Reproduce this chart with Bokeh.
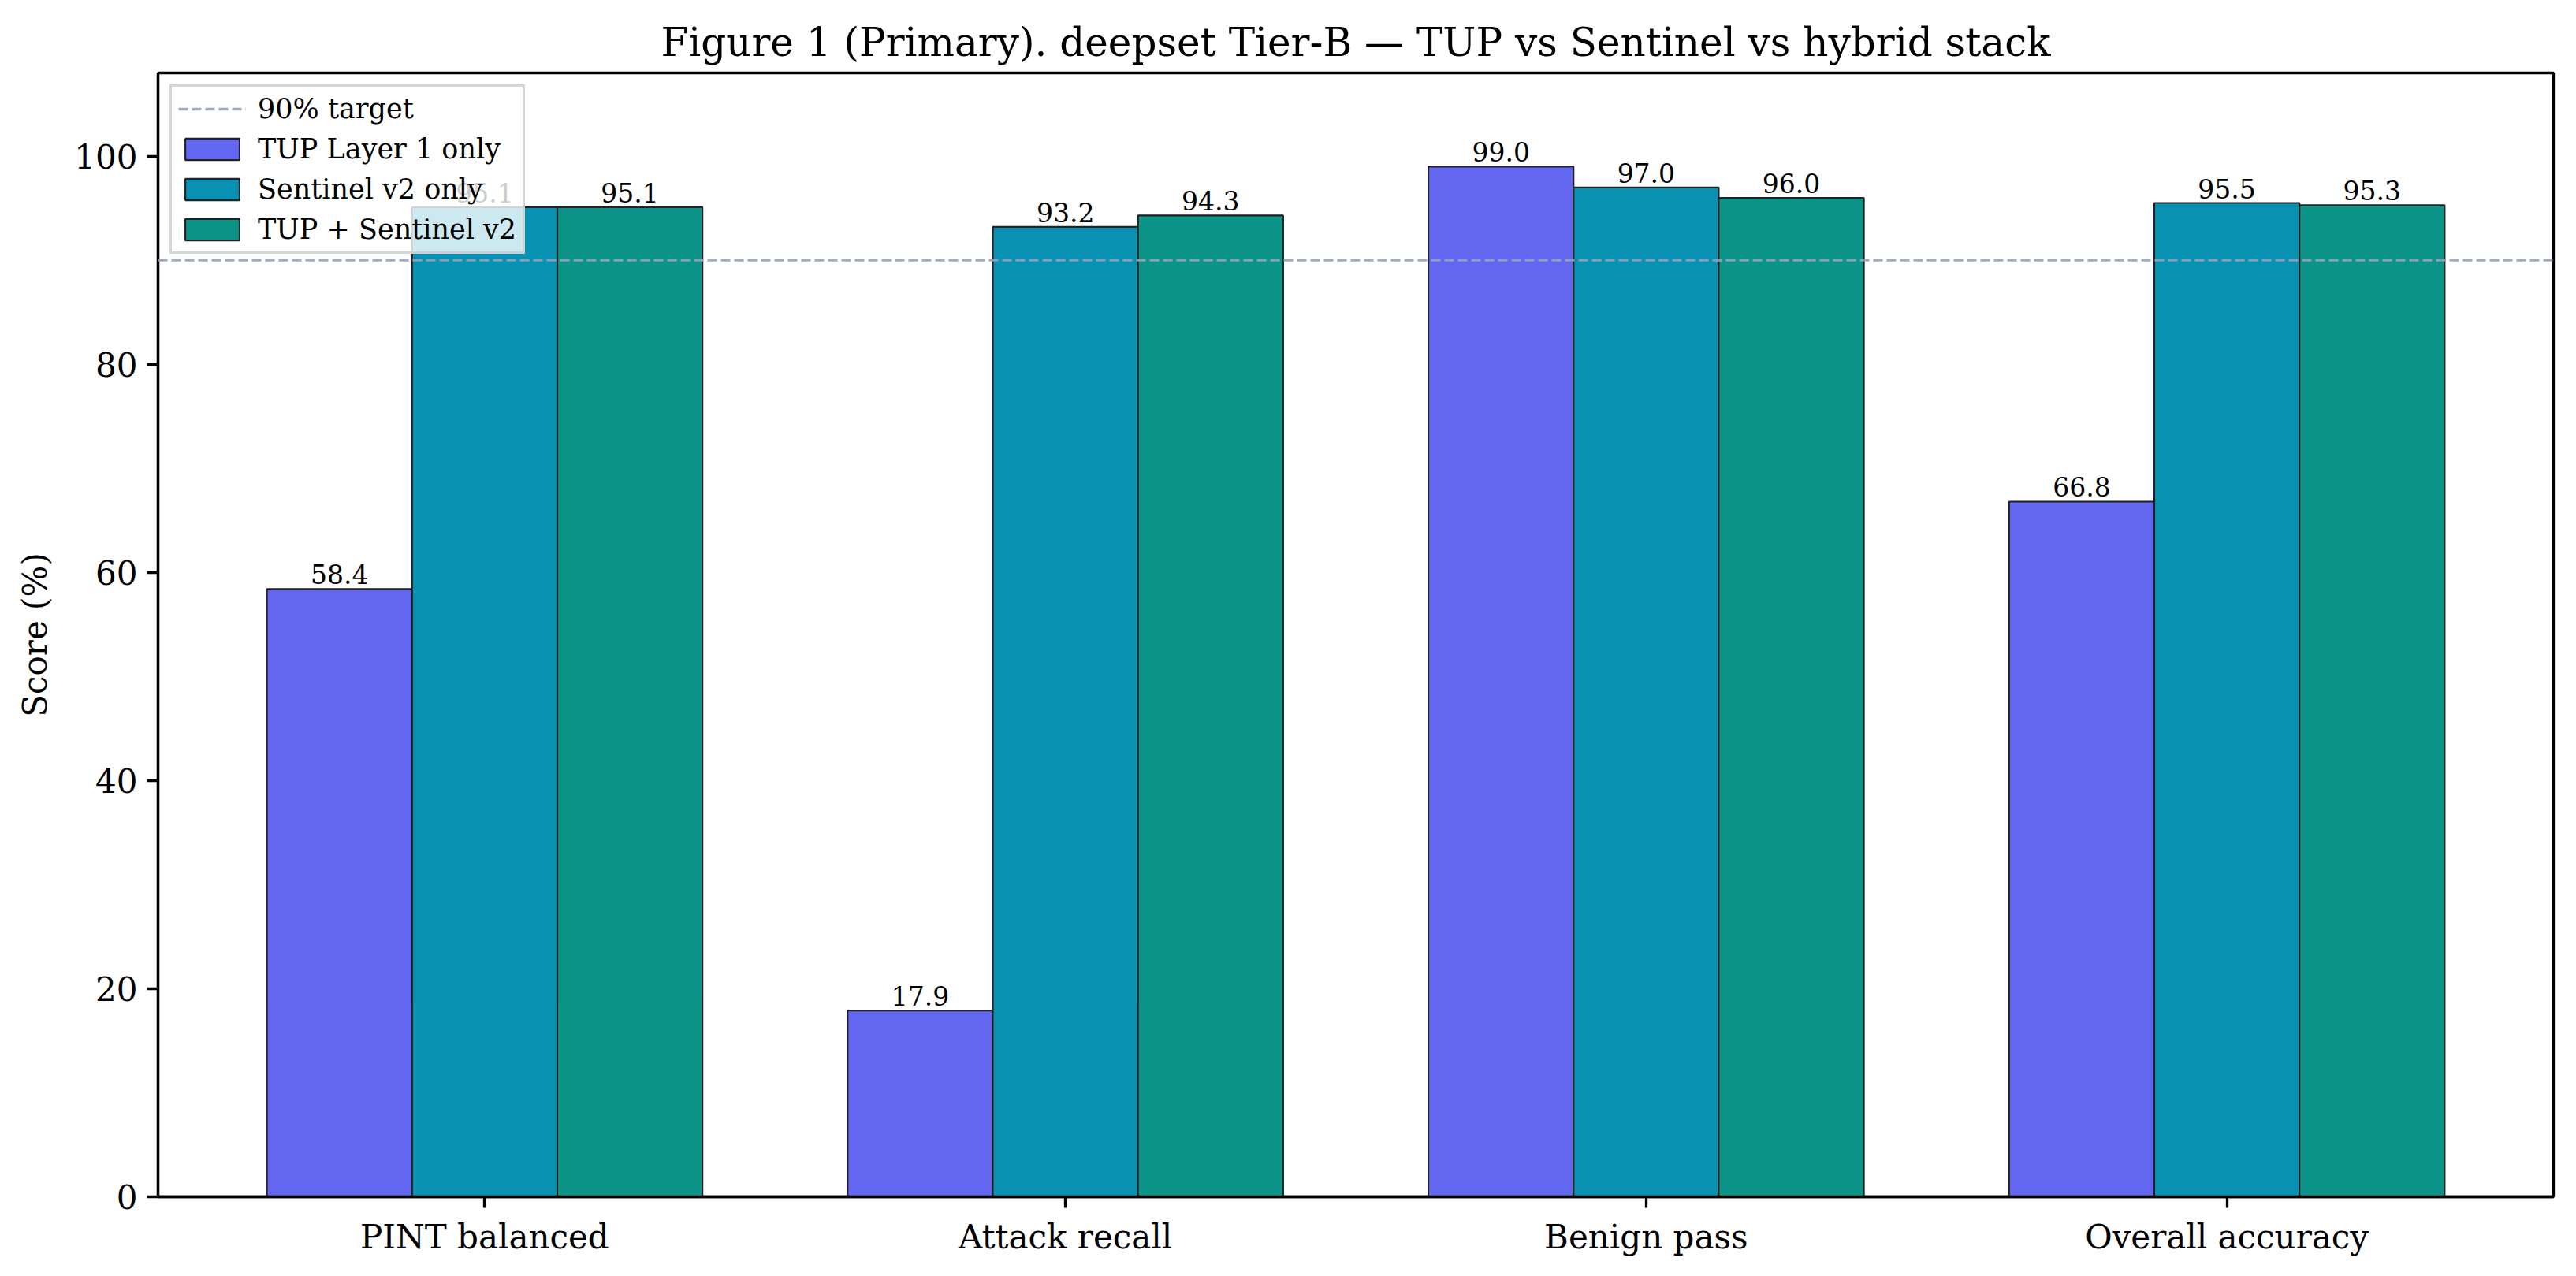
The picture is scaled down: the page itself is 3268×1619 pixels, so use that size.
from bokeh.plotting import figure
from bokeh.models import (FactorRange, Range1d, ColumnDataSource, Legend, LegendItem,
                          FixedTicker, Span)
from bokeh.transform import dodge
from bokeh.core.properties import value
from bokeh.embed import file_html
from bokeh.resources import INLINE

# ---- data ----
categories = ["PINT balanced", "Attack recall", "Benign pass", "Overall accuracy"]
series_names = ["TUP Layer 1 only", "Sentinel v2 only", "TUP + Sentinel v2"]
tup_layer1 = [58.4, 17.9, 99.0, 66.8]
sentinel_v2 = [95.1, 93.2, 97.0, 95.5]
hybrid_stack = [95.1, 94.3, 96.0, 95.3]
target_value = 90
target_label = "90% target"
y_ticks = [0, 20, 40, 60, 80, 100]
title_text = "Figure 1 (Primary). deepset Tier-B \u2014 TUP vs Sentinel vs hybrid stack"
y_label = "Score (%)"

colors = ["#6366f1", "#0891b2", "#0d9488"]
FONT = "DejaVu Serif"

series_values = [tup_layer1, sentinel_v2, hybrid_stack]
offsets = [-0.25, 0.0, 0.25]

p = figure(width=3268, height=1619, output_backend="svg", toolbar_location=None,
           x_range=FactorRange(*categories, range_padding=0.0625, range_padding_units="absolute"),
           y_range=Range1d(0, 108),
           min_border_left=200, min_border_right=29, min_border_top=92, min_border_bottom=101)

p.title.text = title_text
p.title.text_font = FONT
p.title.text_font_size = "50px"
p.title.text_font_style = "normal"
p.title.text_color = "black"
p.title.align = "center"
p.title.standoff = 20

p.xgrid.visible = False
p.ygrid.visible = False
p.outline_line_color = "black"
p.outline_line_width = 3.3
p.outline_line_alpha = 1.0

for ax in (p.xaxis[0], p.yaxis[0]):
    ax.axis_line_color = "black"
    ax.axis_line_width = 3.3
    ax.major_tick_line_color = "black"
    ax.major_tick_line_width = 3.3
    ax.major_tick_out = 14
    ax.major_tick_in = 0
    ax.minor_tick_line_color = None
    ax.major_label_text_font = FONT
    ax.major_label_text_font_size = "42px"
    ax.major_label_text_color = "black"
    ax.major_label_standoff = 12
    ax.axis_label_text_font = FONT
    ax.axis_label_text_font_size = "42px"
    ax.axis_label_text_font_style = "normal"
    ax.axis_label_text_color = "black"

p.yaxis.ticker = FixedTicker(ticks=y_ticks)
p.yaxis.axis_label = y_label
p.yaxis.axis_label_standoff = 22

bar_renderers = []
for name, vals, col, off in zip(series_names, series_values, colors, offsets):
    src = ColumnDataSource(dict(cat=categories, val=vals,
                                lbl=[f"{v:.1f}" for v in vals]))
    r = p.vbar(x=dodge("cat", off, range=p.x_range), top="val", width=0.25, source=src,
               fill_color=col, line_color="#222222", line_width=2.1)
    bar_renderers.append(r)
    p.text(x=dodge("cat", off, range=p.x_range), y="val", text="lbl", source=src,
           text_align="center", text_baseline="bottom", y_offset=-6,
           text_font=value(FONT), text_font_size="33px", text_color="black")

span = Span(location=target_value, dimension="width", line_color="#94a3b8",
            line_width=3.4, line_dash="12 5", line_alpha=0.9)
p.add_layout(span)
legend_line = p.line(x=[categories[0]], y=[target_value], line_color="#94a3b8",
                     line_width=3.4, line_dash="12 5", line_alpha=0.9)

items = [LegendItem(label=target_label, renderers=[legend_line])]
items += [LegendItem(label=n, renderers=[r]) for n, r in zip(series_names, bar_renderers)]
legend = Legend(items=items, location="top_left", margin=15, padding=8,
                label_text_font=FONT, label_text_font_size="35px", label_text_color="black",
                glyph_width=86, glyph_height=34, label_standoff=15, spacing=11,
                label_height=30,
                border_line_color="#cccccc", border_line_width=3, border_line_alpha=0.8,
                background_fill_color="white", background_fill_alpha=0.8)
p.add_layout(legend)

open("out.html", "w").write(file_html(p, INLINE))
